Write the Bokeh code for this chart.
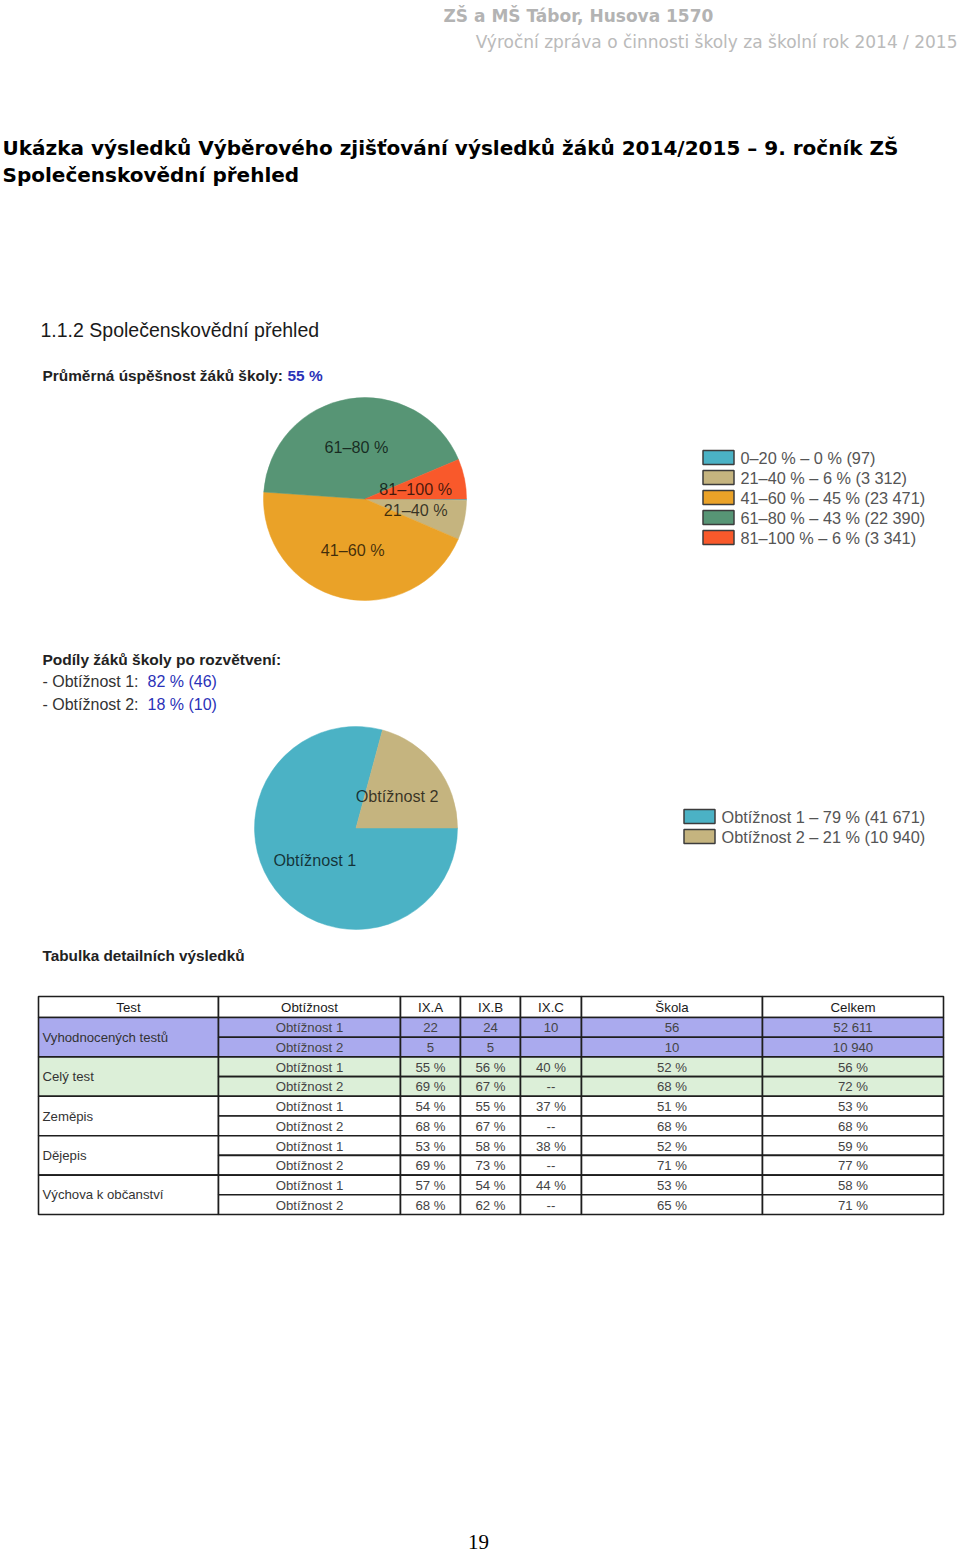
import numpy as np
from bokeh.plotting import figure
from bokeh.models import Range1d, ColumnDataSource
from bokeh.core.properties import value
from bokeh.embed import file_html
from bokeh.resources import INLINE

# ---------------- data ----------------
pie1_labels = ["0–20 %", "21–40 %", "41–60 %", "61–80 %", "81–100 %"]
pie1_pct = [0, 6, 45, 43, 6]
pie1_counts = [97, 3312, 23471, 22390, 3341]
pie1_legend = ["0–20 % – 0 % (97)", "21–40 % – 6 % (3 312)", "41–60 % – 45 % (23 471)",
               "61–80 % – 43 % (22 390)", "81–100 % – 6 % (3 341)"]

pie2_labels = ["Obtížnost 1", "Obtížnost 2"]
pie2_pct = [79, 21]
pie2_counts = [41671, 10940]
pie2_legend = ["Obtížnost 1 – 79 % (41 671)", "Obtížnost 2 – 21 % (10 940)"]

table_headers = ["Test", "Obtížnost", "IX.A", "IX.B", "IX.C", "Škola", "Celkem"]
table_tests = ["Vyhodnocených testů", "Celý test", "Zeměpis", "Dějepis", "Výchova k občanství"]
table_level = ["Obtížnost 1", "Obtížnost 2"] * 5
col_ixa = ["22", "5", "55 %", "69 %", "54 %", "68 %", "53 %", "69 %", "57 %", "68 %"]
col_ixb = ["24", "5", "56 %", "67 %", "55 %", "67 %", "58 %", "73 %", "54 %", "62 %"]
col_ixc = ["10", "", "40 %", "--", "37 %", "--", "38 %", "--", "44 %", "--"]
col_skola = ["56", "10", "52 %", "68 %", "51 %", "68 %", "52 %", "71 %", "53 %", "65 %"]
col_celkem = ["52 611", "10 940", "56 %", "72 %", "53 %", "68 %", "59 %", "77 %", "58 %", "71 %"]

# ---------------- style ----------------
pie1_colors = ["#4bb2c5", "#c5b47f", "#eaa228", "#579575", "#f9592b"]
pie2_colors = ["#4bb2c5", "#c5b47f"]
BLUE = "#2a32b8"
SANS = "Liberation Sans"

W, H = 960, 1552
p = figure(width=W, height=H, x_range=Range1d(0, W), y_range=Range1d(-H, 0),
           output_backend="svg", toolbar_location=None, min_border=0,
           x_axis_location=None, y_axis_location=None)
p.grid.visible = False
p.outline_line_color = None
p.background_fill_color = "white"
p.border_fill_color = "white"


def txt(x, y, s, size, color, font=SANS, style="normal", align="left", alpha=1.0):
    p.text(x=[x], y=[-y], text=[s], text_font=value(font), text_font_size=f"{size}px",
           text_color=color, text_font_style=style, text_align=align,
           text_baseline="middle", text_alpha=alpha)


# ---------------- header ----------------
txt(443, 15, "ZŠ a MŠ Tábor, Husova 1570", 17, "#b3b3b3", font="DejaVu Sans", style="bold")
txt(957, 41, "Výroční zpráva o činnosti školy za školní rok 2014 / 2015", 17, "#bababa",
    font="DejaVu Sans", align="right")

txt(2, 147, "Ukázka výsledků Výběrového zjišťování výsledků žáků 2014/2015 – 9. ročník ZŠ", 20,
    "#000000", font="DejaVu Sans", style="bold")
txt(2, 174, "Společenskovědní přehled", 20, "#000000", font="DejaVu Sans", style="bold")

txt(40, 329, "1.1.2 Společenskovědní přehled", 19.5, "#1a1a1a")
txt(42, 375, "Průměrná úspěšnost žáků školy:", 15.4, "#222222", style="bold")
txt(287, 375, "55 %", 15.4, BLUE, style="bold")

txt(42, 659, "Podíly žáků školy po rozvětvení:", 15.5, "#222222", style="bold")
txt(42, 681, "- Obtížnost 1:", 16, "#333333")
txt(147, 681, "82 % (46)", 16, BLUE)
txt(42, 704, "- Obtížnost 2:", 16, "#333333")
txt(147, 704, "18 % (10)", 16, BLUE)

txt(42, 955, "Tabulka detailních výsledků", 15.3, "#222222", style="bold")


# ---------------- pies ----------------
def pie(cx, cy, r, counts, pcts, labels, colors, legend, lx, ly0):
    c = np.array(counts, dtype=float)
    frac = c / c.sum()
    cum = np.concatenate([[0.0], np.cumsum(frac)])
    start = -2 * np.pi * cum[1:]
    end = -2 * np.pi * cum[:-1]
    src = ColumnDataSource(dict(start=start, end=end, color=colors))
    p.wedge(x=cx, y=-cy, radius=r, start_angle="start", end_angle="end",
            fill_color="color", line_color="color", line_width=0.5, source=src)
    mid = -np.pi * (cum[:-1] + cum[1:])
    keep = [i for i in range(len(counts)) if pcts[i] >= 3]
    lsrc = ColumnDataSource(dict(
        x=[cx + 0.51 * r * np.cos(mid[i]) for i in keep],
        y=[-cy + 0.52 * r * np.sin(mid[i]) for i in keep],
        t=[labels[i] for i in keep]))
    p.text(x="x", y="y", text="t", source=lsrc, text_font=value(SANS), text_font_size="16.2px",
           text_color="#000000", text_alpha=0.72, text_align="center", text_baseline="middle")
    # legend
    n = len(legend)
    ys = [ly0 + 20 * i for i in range(n)]
    gsrc = ColumnDataSource(dict(x=[lx + 16] * n, y=[-v for v in ys], color=colors,
                                 tx=[lx + 38] * n, t=legend))
    p.rect(x="x", y="y", width=31, height=14, fill_color="color", line_color="#3c3c3c",
           line_width=1.5, source=gsrc)
    p.text(x="tx", y="y", text="t", source=gsrc, text_font=value(SANS), text_font_size="16.3px",
           text_color="#555555", text_align="left", text_baseline="middle")


pie(364.5, 498.5, 101.5, pie1_counts, pie1_pct, pie1_labels, pie1_colors, pie1_legend, 702, 457)
pie(355.5, 827.5, 101.5, pie2_counts, pie2_pct, pie2_labels, pie2_colors, pie2_legend, 683, 816)

# ---------------- table ----------------
edges = [38, 218, 400, 460, 520, 581, 762, 943]
top0 = 996
head_b = 1017
rh = 19.7
nrows = len(col_ixa)
group_fill = ["#aaaaee", "#dcefd8", "#ffffff", "#ffffff", "#ffffff"]
LINE = "#1e1e1e"

# header cells
p.quad(left=edges[:-1], right=edges[1:], top=[-top0] * 7, bottom=[-head_b] * 7,
       fill_color="white", line_color=LINE, line_width=1.6)
hx = [(edges[i] + edges[i + 1]) / 2 for i in range(7)]
p.text(x=hx, y=[-(top0 + head_b) / 2] * 7, text=table_headers, text_font=value(SANS),
       text_font_size="13.3px", text_color="#1a1a1a", text_align="center", text_baseline="middle")

# test column (merged)
ng = len(table_tests)
tt = [head_b + 2 * k * rh for k in range(ng)]
tb = [head_b + (2 * k + 2) * rh for k in range(ng)]
p.quad(left=[edges[0]] * ng, right=[edges[1]] * ng, top=[-v for v in tt], bottom=[-v for v in tb],
       fill_color=group_fill, line_color=LINE, line_width=1.6)
p.text(x=[edges[0] + 4] * ng, y=[-(a + b) / 2 for a, b in zip(tt, tb)], text=table_tests,
       text_font=value(SANS), text_font_size="13.2px", text_color="#333333",
       text_align="left", text_baseline="middle")

# value cells
cols = [table_level, col_ixa, col_ixb, col_ixc, col_skola, col_celkem]
L, R, T, B, F, X, Y, S = [], [], [], [], [], [], [], []
for c, colvals in enumerate(cols, start=1):
    for i in range(nrows):
        t = head_b + i * rh
        L.append(edges[c]); R.append(edges[c + 1])
        T.append(-t); B.append(-(t + rh))
        F.append(group_fill[i // 2])
        X.append((edges[c] + edges[c + 1]) / 2); Y.append(-(t + rh / 2 + 0.5))
        S.append(colvals[i])
p.quad(left=L, right=R, top=T, bottom=B, fill_color=F, line_color=LINE, line_width=1.6)
p.text(x=X, y=Y, text=S, text_font=value(SANS), text_font_size="13.2px", text_color="#444444",
       text_align="center", text_baseline="middle")

# page number
txt(478, 1541, "19", 21, "#000000", font="Liberation Serif", align="center")

open("out.html", "w").write(file_html(p, INLINE))
